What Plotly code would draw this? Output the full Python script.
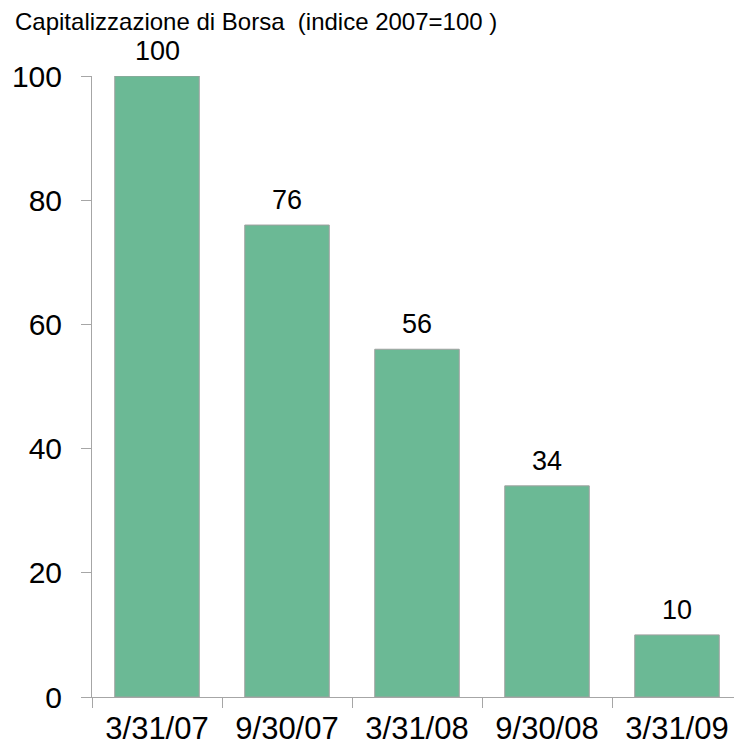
import plotly.graph_objects as go

# data
dates = ["3/31/07", "9/30/07", "3/31/08", "9/30/08", "3/31/09"]
index_values = [100, 76, 56, 34, 10]

AXIS_GRAY = "#A6A6A6"
BAR_GREEN = "#6BB995"
FONT = "Liberation Sans, Arial, sans-serif"

fig = go.Figure(
    go.Bar(
        x=dates,
        y=index_values,
        marker=dict(color=BAR_GREEN, line=dict(color="#A0A0A0", width=1)),
    )
)

# value labels above the bars
for d, v in zip(dates, index_values):
    fig.add_annotation(
        x=d, y=v, text=str(v), showarrow=False,
        yanchor="bottom", yshift=8,
        font=dict(size=27, family=FONT, color="#000000"),
    )

# title, left aligned at the top
fig.add_annotation(
    text="Capitalizzazione di Borsa  (indice 2007=100 )",
    xref="paper", yref="paper",
    x=(5 - 84) / 650, y=(621 + 68 - 13) / 621,
    xanchor="left", yanchor="middle",
    showarrow=False,
    font=dict(size=24, family=FONT, color="#000000"),
)

# page body adds 8px on left/top, margins compensate
fig.update_layout(
    width=742,
    height=753,
    margin=dict(l=84, r=8, t=68, b=64),
    paper_bgcolor="white",
    plot_bgcolor="white",
    bargap=0.35,
    showlegend=False,
    font=dict(family=FONT, color="#000000"),
)

fig.update_xaxes(
    type="category",
    automargin=False,
    showline=True,
    linecolor=AXIS_GRAY,
    linewidth=1,
    ticks="outside",
    tickson="boundaries",
    ticklen=10,
    tickcolor=AXIS_GRAY,
    tickfont=dict(size=31, family=FONT, color="#000000"),
    ticklabelstandoff=4,
    showgrid=False,
    zeroline=False,
)

fig.update_yaxes(
    range=[0, 100],
    tickvals=[0, 20, 40, 60, 80, 100],
    automargin=False,
    showline=True,
    linecolor=AXIS_GRAY,
    linewidth=1,
    ticks="outside",
    ticklen=10,
    tickcolor=AXIS_GRAY,
    tickfont=dict(size=30, family=FONT, color="#000000"),
    ticklabelstandoff=13,
    showgrid=False,
    zeroline=False,
)

fig.write_html("out.html")
